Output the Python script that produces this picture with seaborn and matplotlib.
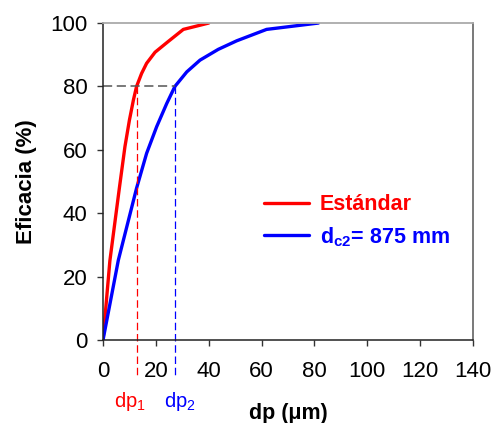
import numpy as np
import pandas as pd
import matplotlib
matplotlib.use("Agg")
import matplotlib.pyplot as plt
import seaborn as sns

# ==========================
# DATA
# ==========================
dp_std = [0, 2.6, 6.2, 8.3, 10.0, 11.5, 12.7, 14.6, 16.5, 19.7, 24.7, 30.4, 40.0]
ef_std = [0, 25.0, 48.0, 61.0, 69.4, 75.7, 80, 84.1, 87.3, 90.8, 94.2, 98, 100]

dp_dc2 = [0, 5.8, 12.7, 16.5, 20.3, 24.1, 27.2, 31.7, 36.7, 43.6, 50.6, 61.9, 81.5]
ef_dc2 = [0, 25.2, 47.9, 58.9, 67.3, 74.6, 80, 84.6, 88.3, 91.7, 94.4, 98, 100]

series_names = ["Estándar", "dc2"]
series_colors = ["#ff0000", "#0000ff"]
legend_labels = ["Estándar", "d$_{\\mathbf{c2}}$= 875 mm"]

dp1 = 12.7
dp2 = 27.2
ef_target = 80

xticks = [0, 20, 40, 60, 80, 100, 120, 140]
yticks = [0, 20, 40, 60, 80, 100]

df = pd.concat([
    pd.DataFrame({"dp": dp_std, "ef": ef_std, "serie": series_names[0]}),
    pd.DataFrame({"dp": dp_dc2, "ef": ef_dc2, "serie": series_names[1]}),
])

# ==========================
# STYLE
# ==========================
sns.set_style("ticks")
plt.rcParams["font.family"] = ["Liberation Sans", "DejaVu Sans"]
plt.rcParams["text.color"] = "black"
plt.rcParams["axes.labelcolor"] = "black"
plt.rcParams["mathtext.fontset"] = "custom"
plt.rcParams["mathtext.rm"] = "Liberation Sans"
plt.rcParams["mathtext.bf"] = "Liberation Sans:bold"

fig = plt.figure(figsize=(4.94, 4.23), dpi=100)
ax = fig.add_axes([0.2085, 0.196, 0.749, 0.7495])

sns.lineplot(data=df, x="dp", y="ef", hue="serie", palette=series_colors,
             hue_order=series_names, linewidth=2.4, sort=False,
             estimator=None, ax=ax, legend=False)

# reference lines
ax.plot([0, dp2], [ef_target, ef_target], color="#555555", lw=1.1,
        dashes=(6, 3))
ax.plot([dp1, dp1], [ef_target, -12], color="#ff0000", lw=0.9,
        dashes=(6, 3), clip_on=False)
ax.plot([dp2, dp2], [ef_target, -12], color="#0000ff", lw=0.9,
        dashes=(6, 3), clip_on=False)

ax.set_xlim(0, 140)
ax.set_ylim(0, 100)
ax.set_xticks(xticks)
ax.set_yticks(yticks)
ax.tick_params(labelsize=16, length=4, width=1, color="#333333",
               labelcolor="black")
ax.tick_params(axis="x", pad=11)
ax.tick_params(axis="y", pad=7)

for side in ["left", "bottom"]:
    ax.spines[side].set_color("#222222")
    ax.spines[side].set_linewidth(1.1)
ax.spines["top"].set_visible(True)
ax.spines["right"].set_visible(True)
ax.spines["top"].set_color("#aaaaaa")
ax.spines["top"].set_linewidth(1.3)
ax.spines["right"].set_color("#555555")
ax.spines["right"].set_linewidth(1.1)

ax.set_xlabel("dp (μm)", fontsize=15.5, fontweight="bold")
ax.xaxis.set_label_coords(0.5, -0.2)
ax.set_ylabel("Eficacia (%)", fontsize=16, fontweight="bold", labelpad=10)

# dp labels below axis
ax.text(dp1 - 2.5, -19.5, "dp$_1$", color="#ff0000", fontsize=14.5,
        ha="center", va="center")
ax.text(dp2 + 2, -19.5, "dp$_2$", color="#0000ff", fontsize=14.5,
        ha="center", va="center")

# legend
handles = [plt.Line2D([], [], color=c, lw=2.4) for c in series_colors]
leg = ax.legend(handles, legend_labels,
                loc="upper left", bbox_to_anchor=(0.435, 0.46),
                borderaxespad=0, borderpad=0,
                frameon=False, fontsize=15.5, handlelength=2.1,
                handletextpad=0.5, labelspacing=0.45)
for txt, c in zip(leg.get_texts(), series_colors):
    txt.set_color(c)
    txt.set_fontweight("bold")

plt.savefig("out.png", dpi=100)
plt.close()
